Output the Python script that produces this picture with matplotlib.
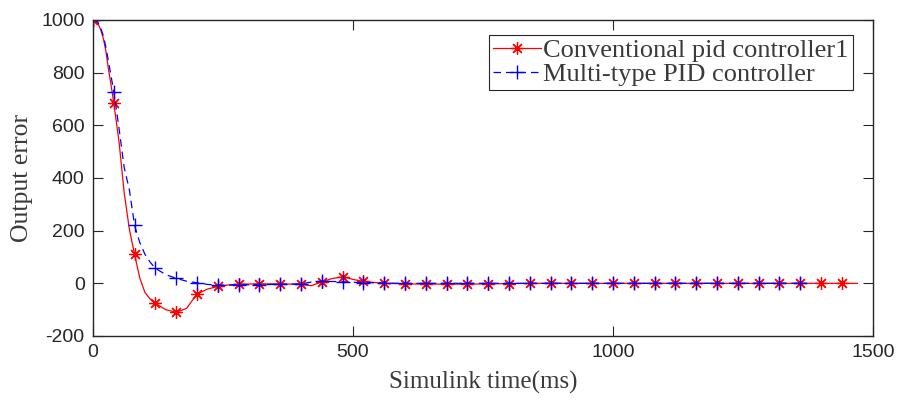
import numpy as np
import matplotlib
matplotlib.use("Agg")
import matplotlib.pyplot as plt

plt.rcParams["axes.unicode_minus"] = False

# ---- data ----
t_conv = [0, 5, 10, 15, 20, 25, 30, 35, 40, 50, 60, 70, 80, 90, 100, 110, 120, 140, 160, 180, 200,
          220, 240, 260, 280, 320, 360, 400, 420, 440, 460, 480, 500, 520,
          560, 600, 640, 680, 720, 760, 800, 840, 880, 920, 960, 1000, 1040,
          1080, 1120, 1160, 1200, 1240, 1280, 1320, 1360, 1400, 1440, 1470]
y_conv = [1000, 997, 985, 962, 930, 880, 810, 750, 685, 540, 345, 205, 110, 20, -35, -60, -76, -100, -110, -95, -41,
          -22, -12, -6, -3, -2, -2, -4, -9, 6, 18, 25, 15, 7,
          0, -2, -3, -3, -3, -2, -1, 0, 0, 0, 0, 0, 0,
          0, 0, 0, 0, 0, 0, 0, 0, 0, 0, 0]

t_multi = [0, 5, 10, 15, 20, 25, 30, 35, 40, 50, 60, 70, 80, 90, 100, 110, 120, 140, 160, 180, 200,
           220, 240, 260, 280, 320, 360, 400, 420, 440, 460, 480, 500, 520,
           560, 600, 640, 680, 720, 760, 800, 840, 880, 920, 960, 1000, 1040,
           1080, 1120, 1160, 1200, 1240, 1280, 1320, 1360, 1370]
y_multi = [1000, 998, 990, 968, 940, 895, 840, 785, 728, 590, 440, 355, 220, 155, 110, 80, 57, 33, 19, 8, 2,
           -4, -7, -7, -6, -5, -4, -2, 5, 8, 7, 6, 4, 3,
           1, 0, 0, 0, 0, 0, 0, 0, 0, 0, 0, 0, 0,
           0, 0, 0, 0, 0, 0, 0, 0, 0]

label_conv = "Conventional pid controller1"
label_multi = "Multi-type PID controller"
xlabel = "Simulink time(ms)"
ylabel = "Output error"
xticks = [0, 500, 1000, 1500]
yticks = [-200, 0, 200, 400, 600, 800, 1000]

# ---- plot ----
t_conv = np.array(t_conv); y_conv = np.array(y_conv)
t_multi = np.array(t_multi); y_multi = np.array(y_multi)

fig = plt.figure(figsize=(9, 4), dpi=100)
ax = fig.add_axes([0.1033, 0.16, 0.8667, 0.79])

asterisk = (8, 2, 0)
ax.plot(t_conv, y_conv, color="red", lw=0.9, ls="-", marker=asterisk, ms=9, mew=0.9,
        markevery=list(t_conv % 40 == 0), label=label_conv)
ax.plot(t_multi, y_multi, color="blue", lw=0.9, ls=(0, (6, 4)), marker="+", ms=10, mew=1.0,
        markevery=list(t_multi % 40 == 0), label=label_multi)

ax.set_xlim(0, 1500)
ax.set_ylim(-200, 1000)
ax.set_xticks(xticks)
ax.set_yticks(yticks)

axcol = "#262626"
txtcol = "#3a3a3a"
for s in ax.spines.values():
    s.set_color(axcol)
    s.set_linewidth(1.0)
ax.tick_params(direction="in", length=7, width=0.8, color=axcol, labelcolor=axcol,
               top=True, right=True, labelsize=14, pad=6)
for lab in ax.get_xticklabels() + ax.get_yticklabels():
    lab.set_family("Liberation Sans")

serif = "Liberation Serif"
ax.set_xlabel(xlabel, family=serif, fontsize=18, color=txtcol, labelpad=7)
ax.set_ylabel(ylabel, family=serif, fontsize=18.5, color=txtcol, labelpad=6)

leg = ax.legend(loc="upper right", bbox_to_anchor=(0.974, 0.953), prop={"family": serif, "size": 19},
                frameon=True, fancybox=False, edgecolor=axcol, framealpha=1,
                handlelength=1.8, handletextpad=0.1, borderpad=0.15, labelspacing=0.0,
                borderaxespad=0.0)
for txt in leg.get_texts():
    txt.set_color(txtcol)
leg.get_frame().set_linewidth(0.8)

fig.savefig("out.png", dpi=100)
